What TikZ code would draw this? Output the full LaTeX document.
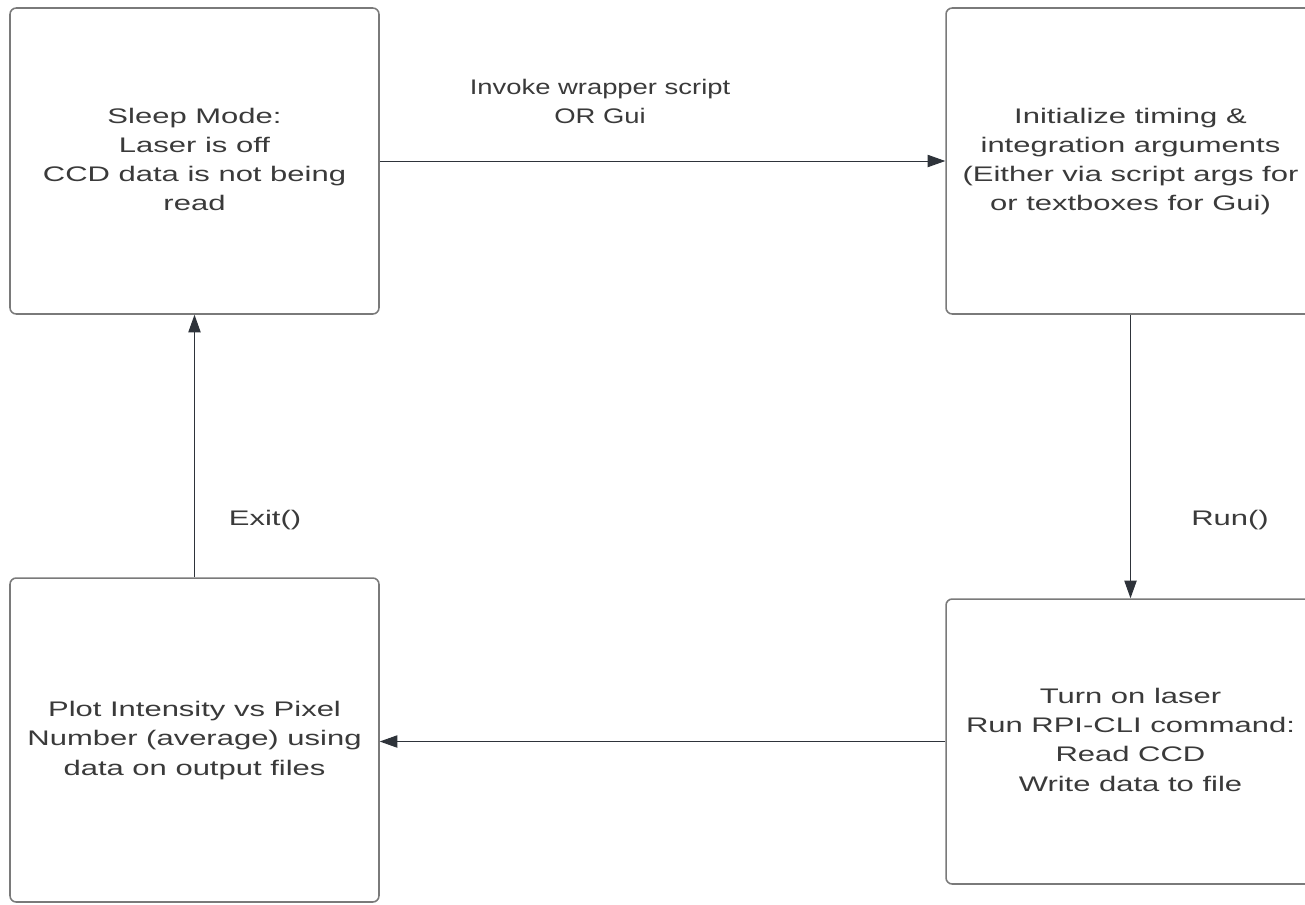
\documentclass[tikz,border=0pt]{standalone}
\usepackage{fontspec}
\setmainfont{Liberation Sans}
\usepackage{graphicx}
\usepackage{tikz}
\usetikzlibrary{arrows.meta}
\definecolor{boxline}{HTML}{7A7A7A}
\definecolor{txt}{HTML}{3A3A3A}
\definecolor{arr}{HTML}{2E333A}
% the lettering is wide: stretch each block sideways
\newcommand{\widetext}[2][1.47]{\scalebox{#1}[1]{\begin{tabular}{@{}c@{}}#2\end{tabular}}}
\tikzset{
  state/.style={draw=boxline, line width=0.9pt, rounded corners=3.5pt,
    minimum width=7.38cm, align=center, text=txt, inner sep=0pt,
    font=\fontsize{12}{16.6}\selectfont},
  flow/.style={draw=arr, line width=0.55pt,
    -{Triangle[length=10pt, width=7pt, fill=arr]}},
  lbl/.style={text=txt, align=center, inner sep=0pt, font=\fontsize{12}{16.6}\selectfont}
}
\begin{document}
\begin{tikzpicture}[x=0.02cm, y=-0.02cm]
    \clip (0,0) rectangle (1305,904);
    \fill[white] (0,0) rectangle (1305,904);
    \node[state, minimum height=6.12cm] (sleep) at (194.5,161) {\widetext{Sleep Mode:\\Laser is off\\CCD data is not being\\read}};
    \node[state, minimum height=6.12cm] (init) at (1130.5,161) {\widetext{Initialize timing \&\\integration arguments\\(Either via script args for\\or textboxes for Gui)}};
    \node[state, minimum height=5.7cm] (run) at (1130.5,741.5) {\widetext{Turn on laser\\Run RPI-CLI command:\\Read CCD\\Write data to file}};
    \node[state, minimum height=6.48cm] (plot) at (194.5,740) {\widetext{Plot Intensity vs Pixel\\Number (average) using\\data on output files}};
    \node[lbl] (invoke) at (600,103.5) {\widetext[1.3]{Invoke wrapper script\\OR Gui}};
    \node[lbl] (exit) at (265,520) {\widetext{Exit()}};
    \node[lbl] (runlbl) at (1230,520) {\widetext{Run()}};
    \draw[flow] (sleep.east) to (init.west);
    \draw[flow] (init.south) to (run.north);
    \draw[flow] (run.west) to (run.west -| plot.east);
    \draw[flow] (plot.north) to (sleep.south);
\end{tikzpicture}
\end{document}
